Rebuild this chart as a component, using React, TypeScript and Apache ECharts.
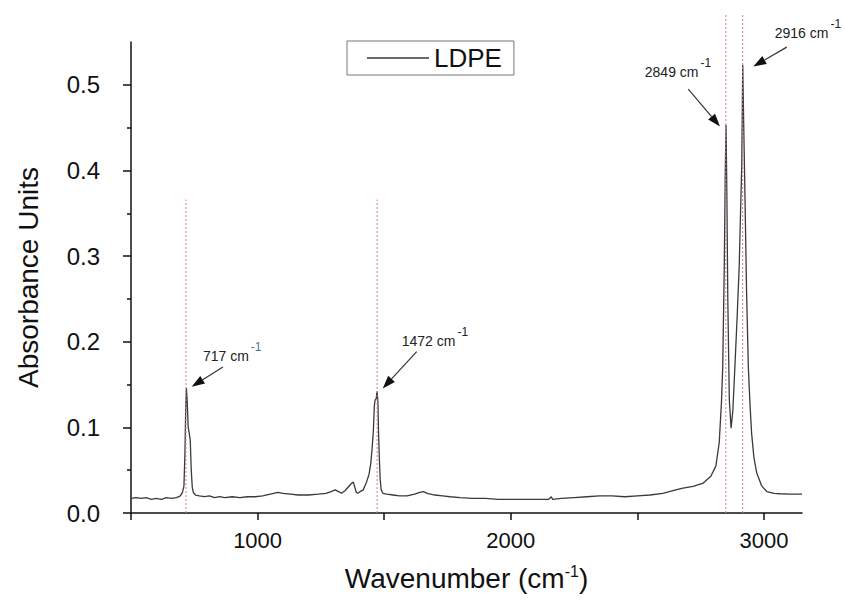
import React, { useEffect, useRef } from 'react';
import * as echarts from 'echarts';

// ---- data ----
const seriesName = 'LDPE';
const wavenumbers = [
  500, 520, 540, 560, 580, 600, 620, 640, 660, 680, 695, 703, 709, 713, 716, 719, 722, 726, 730, 734,
  738, 742, 746, 755, 770, 790, 810, 830, 850, 870, 900, 930, 960, 990, 1020, 1050, 1080, 1100, 1130, 1160,
  1200, 1240, 1270, 1290, 1306, 1320, 1332, 1345, 1360, 1372, 1378, 1384, 1390, 1396, 1405, 1417, 1430, 1440, 1447, 1452,
  1457, 1461, 1464, 1468, 1472, 1475, 1478, 1481, 1484, 1488, 1495, 1510, 1535, 1560, 1590, 1620, 1640, 1655, 1670, 1700,
  1730, 1760, 1800, 1850, 1900, 1950, 2000, 2050, 2100, 2150, 2160, 2165, 2200, 2250, 2300, 2350, 2400, 2450, 2500, 2550,
  2600, 2640, 2680, 2720, 2760, 2790, 2810, 2823, 2832, 2837, 2843, 2847, 2850, 2853, 2857, 2863, 2870, 2877, 2885, 2894,
  2902, 2908, 2912, 2916, 2920, 2925, 2931, 2938, 2945, 2951, 2960, 2971, 2990, 3011, 3040, 3063, 3100, 3150,
];
const absorbance = [
  0.017, 0.018, 0.017, 0.018, 0.016, 0.017, 0.016, 0.018, 0.017, 0.018, 0.020, 0.024, 0.031, 0.070, 0.120, 0.146, 0.130, 0.100, 0.093, 0.085,
  0.050, 0.030, 0.024, 0.021, 0.020, 0.019, 0.020, 0.018, 0.019, 0.018, 0.019, 0.018, 0.019, 0.019, 0.020, 0.022, 0.024, 0.023, 0.022, 0.021,
  0.021, 0.022, 0.023, 0.025, 0.027, 0.025, 0.023, 0.026, 0.031, 0.035, 0.036, 0.030, 0.024, 0.023, 0.025, 0.027, 0.036, 0.045, 0.058, 0.075,
  0.095, 0.125, 0.132, 0.133, 0.142, 0.130, 0.090, 0.062, 0.040, 0.027, 0.023, 0.022, 0.021, 0.020, 0.020, 0.022, 0.024, 0.025, 0.023, 0.021,
  0.020, 0.019, 0.018, 0.017, 0.017, 0.016, 0.016, 0.016, 0.016, 0.016, 0.019, 0.016, 0.017, 0.018, 0.019, 0.020, 0.020, 0.019, 0.020, 0.021,
  0.023, 0.026, 0.029, 0.031, 0.035, 0.043, 0.055, 0.082, 0.130, 0.171, 0.288, 0.400, 0.453, 0.380, 0.249, 0.132, 0.099, 0.120, 0.171, 0.230,
  0.288, 0.360, 0.405, 0.523, 0.450, 0.366, 0.260, 0.171, 0.125, 0.093, 0.065, 0.047, 0.032, 0.025, 0.023, 0.0225, 0.022, 0.022,
];

const xTickValues = [500, 1000, 1500, 2000, 2500, 3000];
const xLabelValues = [1000, 2000, 3000];
const yTickValues = [0, 0.1, 0.2, 0.3, 0.4, 0.5];
const yMinorTickValues = [0.05, 0.15, 0.25, 0.35, 0.45];

const peakLabels = ['717', '1472', '2849', '2916'];
const peakWavenumbers = [717, 1472, 2849, 2916];
const peakHeights = [0.146, 0.142, 0.453, 0.523];
const guideTops = [0.366, 0.366, 0.583, 0.583];

// ---- layout (pixel offsets relative to each peak) ----
const annotationLayout = [
  { tip: [5.7, -1.3], tail: [37, -21], label: [17, -32], supColor: '#4a6fa0' },
  { tip: [5.6, -3], tail: [39.6, -39.7], label: [24.6, -50], supColor: '#222' },
  { tip: [-5.8, 1.5], tail: [-37.5, -36], label: [-81, -53], supColor: '#222' },
  { tip: [10.6, 1.4], tail: [44, -18], label: [32, -32], supColor: '#222' },
];

const FONT = '"Liberation Sans", Arial, Helvetica, sans-serif';

export default function App() {
  const ref = useRef<HTMLDivElement>(null);

  useEffect(() => {
    if (!ref.current) return;
    const chart = echarts.init(ref.current, undefined, { renderer: 'svg' });

    const lineData = wavenumbers.map((w, i) => [w, absorbance[i]]);
    const guideData = peakWavenumbers.map((w, i) => [w, guideTops[i]]);
    const annData = peakWavenumbers.map((w, i) => [w, peakHeights[i]]);

    const axisLineStyle = { color: '#111', width: 1.5 };

    const option: any = {
      animation: false,
      backgroundColor: '#fff',
      textStyle: { fontFamily: FONT },
      grid: { left: 131, right: 43, top: 42, bottom: 87, containLabel: false },
      legend: {
        data: [{ name: seriesName, icon: 'rect' }],
        left: 347,
        top: 41,
        itemWidth: 62,
        itemHeight: 1.3,
        itemStyle: { color: '#3a3a3a', borderWidth: 0 },
        borderColor: '#777',
        borderWidth: 1,
        padding: [4, 12, 4, 20],
        textStyle: { fontSize: 26, color: '#111', fontFamily: FONT },
        selectedMode: false,
      },
      xAxis: {
        type: 'value',
        min: 500,
        max: 3150,
        interval: 500,
        name: '{a|Wavenumber (cm}{s|-1}{a|)}',
        nameLocation: 'middle',
        nameGap: 50,
        nameTextStyle: {
          rich: {
            a: { fontSize: 28, lineHeight: 30, color: '#111', fontFamily: FONT },
            s: { fontSize: 16, lineHeight: 16, verticalAlign: 'top', color: '#111', fontFamily: FONT },
          },
        },
        axisLine: { show: true, onZero: false, lineStyle: axisLineStyle },
        axisTick: { show: true, inside: false, length: 7, customValues: xTickValues, lineStyle: { color: '#111', width: 1.5 } },
        axisLabel: {
          customValues: xLabelValues,
          formatter: (v: number) => String(Math.round(v)),
          fontSize: 22,
          color: '#111',
          margin: 16,
          fontFamily: FONT,
        },
        splitLine: { show: false },
      },
      yAxis: [
        {
          type: 'value',
          min: 0,
          max: 0.55,
          interval: 0.1,
          name: 'Absorbance Units',
          nameLocation: 'middle',
          nameGap: 89,
          nameTextStyle: { fontSize: 28, color: '#111', fontFamily: FONT },
          axisLine: { show: true, onZero: false, lineStyle: axisLineStyle },
          axisTick: { show: true, inside: false, length: 8, customValues: yTickValues, lineStyle: { color: '#111', width: 1.5 } },
          axisLabel: {
            customValues: yTickValues,
            formatter: (v: number) => v.toFixed(1),
            fontSize: 24,
            color: '#111',
            margin: 31,
            fontFamily: FONT,
          },
          splitLine: { show: false },
        },
        {
          type: 'value',
          min: 0,
          max: 0.55,
          position: 'left',
          axisLine: { show: false },
          axisTick: { show: true, inside: false, length: 4, customValues: yMinorTickValues, lineStyle: { color: '#111', width: 1.5 } },
          axisLabel: { show: false },
          splitLine: { show: false },
        },
      ],
      series: [
        {
          name: seriesName,
          type: 'line',
          data: lineData,
          symbol: 'none',
          showSymbol: false,
          lineStyle: { color: '#3a3a3a', width: 1.3 },
          itemStyle: { color: '#3a3a3a' },
          z: 3,
        },
        {
          name: 'guides',
          type: 'custom',
          data: guideData,
          clip: false,
          silent: true,
          z: 4,
          renderItem: (params: any, api: any) => {
            const w = api.value(0);
            const top = api.value(1);
            const p0 = api.coord([w, 0]);
            const p1 = api.coord([w, top]);
            return {
              type: 'line',
              shape: { x1: p0[0], y1: p0[1], x2: p1[0], y2: p1[1] },
              style: { stroke: '#d77a7a', lineWidth: 1, lineDash: [2, 2] },
            };
          },
        },
        {
          name: 'annotations',
          type: 'custom',
          data: annData,
          clip: false,
          silent: true,
          z: 5,
          renderItem: (params: any, api: any) => {
            const i = params.dataIndex;
            const p = api.coord([api.value(0), api.value(1)]);
            const L = annotationLayout[i];
            const tip = [p[0] + L.tip[0], p[1] + L.tip[1]];
            const tail = [p[0] + L.tail[0], p[1] + L.tail[1]];
            const dx = tip[0] - tail[0];
            const dy = tip[1] - tail[1];
            const len = Math.hypot(dx, dy);
            const ux = dx / len;
            const uy = dy / len;
            const headLen = 13;
            const headW = 4.5;
            const base = [tip[0] - ux * headLen, tip[1] - uy * headLen];
            const px = -uy;
            const py = ux;
            return {
              type: 'group',
              children: [
                {
                  type: 'line',
                  shape: { x1: tail[0], y1: tail[1], x2: base[0], y2: base[1] },
                  style: { stroke: '#333', lineWidth: 1.2 },
                },
                {
                  type: 'polygon',
                  shape: {
                    points: [
                      tip,
                      [base[0] + px * headW, base[1] + py * headW],
                      [base[0] - px * headW, base[1] - py * headW],
                    ],
                  },
                  style: { fill: '#111' },
                },
                {
                  type: 'text',
                  x: p[0] + L.label[0],
                  y: p[1] + L.label[1],
                  style: {
                    text: `{n|${peakLabels[i]} cm}{s|-1}`,
                    align: 'left',
                    verticalAlign: 'middle',
                    rich: {
                      n: { fontSize: 14, lineHeight: 30, fill: '#222', fontFamily: FONT },
                      s: { fontSize: 12, lineHeight: 12, verticalAlign: 'top', fill: L.supColor, fontFamily: FONT, padding: [0, 0, 0, 2] },
                    },
                  },
                },
              ],
            };
          },
        },
      ],
    };

    chart.setOption(option);
    return () => chart.dispose();
  }, []);

  return <div ref={ref} style={{ width: 845, height: 600, position: 'absolute', left: 0, top: 0 }} />;
}
